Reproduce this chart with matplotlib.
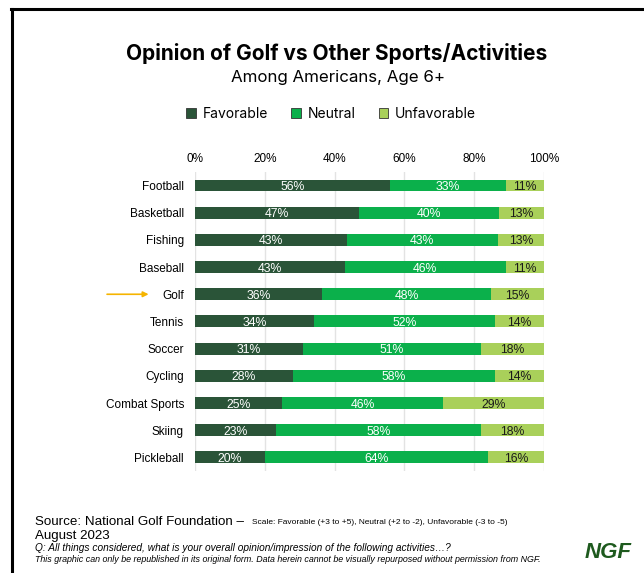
import matplotlib.pyplot as plt
from matplotlib.patches import Patch
import numpy as np

# dane z wykresu
aktywnosci = ["Football", "Basketball", "Fishing", "Baseball", "Golf", "Tennis",
              "Soccer", "Cycling", "Combat Sports", "Skiing", "Pickleball"]
favorable = [56, 47, 43, 43, 36, 34, 31, 28, 25, 23, 20]
neutral = [33, 40, 43, 46, 48, 52, 51, 58, 46, 58, 64]
unfavorable = [11, 13, 13, 11, 15, 14, 18, 14, 29, 18, 16]

kolory = ["#2a5438", "#0bb04b", "#a9d05a"]
nazwy = ["Favorable", "Neutral", "Unfavorable"]

plt.rcParams["font.family"] = ["Liberation Sans", "DejaVu Sans"]

fig = plt.figure(figsize=(6.44, 5.73), dpi=100)
ax = fig.add_axes([0.3028, 0.178, 0.5419, 0.522])

y = np.arange(len(aktywnosci))
serie = np.array([favorable, neutral, unfavorable], dtype=float)
suma = serie.sum(axis=0)
szer = serie / suma * 100  # skalowanie do 100% jak w oryginale
lewo = np.zeros(len(aktywnosci))
for i in range(3):
    ax.barh(y, szer[i], left=lewo, height=0.44, color=kolory[i], zorder=3)
    for j in range(len(aktywnosci)):
        ax.text(lewo[j] + szer[i][j] / 2, y[j], f"{int(serie[i][j])}%",
                ha="center", va="center_baseline", fontsize=8.8,
                color="white" if i < 2 else "#1a1a1a", zorder=4)
    lewo += szer[i]

ax.set_xlim(0, 100)
ax.set_ylim(len(aktywnosci) - 0.5, -0.5)
ax.set_yticks(y)
ax.set_yticklabels(aktywnosci, fontsize=8.5, va="center_baseline")
ax.set_xticks([0, 20, 40, 60, 80, 100])
ax.set_xticklabels(["0%", "20%", "40%", "60%", "80%", "100%"], fontsize=8.5)
ax.xaxis.tick_top()
ax.tick_params(length=0, pad=8)
ax.tick_params(axis="x", pad=5)
ax.grid(axis="x", color="#e3e3e3", linewidth=1, zorder=0)
for s in ax.spines.values():
    s.set_visible(False)

# strzałka przy Golf
ax.annotate("", xy=(-12.5, 4), xytext=(-26, 4), xycoords="data",
            arrowprops=dict(arrowstyle="-|>", color="#f5b400", lw=1.2,
                            mutation_scale=8), annotation_clip=False)

# tytuły
fig.text(0.522, 0.907, "Opinion of Golf vs Other Sports/Activities", ha="center",
         va="center", fontsize=15, fontweight="bold", family="Inter")
fig.text(0.525, 0.864, "Among Americans, Age 6+", ha="center", va="center",
         fontsize=12.2, family="Inter")

uchwyty = [Patch(facecolor=c, edgecolor="#333333", linewidth=0.6) for c in kolory]
fig.legend(uchwyty, nazwy, loc="center", bbox_to_anchor=(0.514, 0.801), ncol=3,
           frameon=False, handlelength=0.7, handleheight=0.7,
           handletextpad=0.45, columnspacing=1.7, prop={"family": "Inter", "size": 10})

# stopka
fig.text(0.054, 0.089, "Source: National Golf Foundation \u2013 ", fontsize=9.6, va="center")
fig.text(0.392, 0.089, "Scale: Favorable (+3 to +5), Neutral (+2 to -2), Unfavorable (-3 to -5)",
         fontsize=6.0, va="center")
fig.text(0.054, 0.065, "August 2023", fontsize=9.6, va="center")
fig.text(0.054, 0.044, "Q: All things considered, what is your overall opinion/impression of the following activities\u2026?",
         fontsize=7.3, style="italic", va="center")
fig.text(0.054, 0.023, "This graphic can only be republished in its original form. Data herein cannot be visually repurposed without permission from NGF.",
         fontsize=6.4, style="italic", va="center")
fig.text(0.945, 0.036, "NGF", fontsize=16, fontweight="heavy", style="italic",
         color="#1e5a1e", ha="center", va="center")

# ramka
fig.add_artist(plt.Line2D([0.018, 0.018], [0, 0.984], color="black", lw=2.2))
fig.add_artist(plt.Line2D([0.017, 1.0], [0.984, 0.984], color="black", lw=2.2))

fig.savefig("out.png", dpi=100, facecolor="white")
